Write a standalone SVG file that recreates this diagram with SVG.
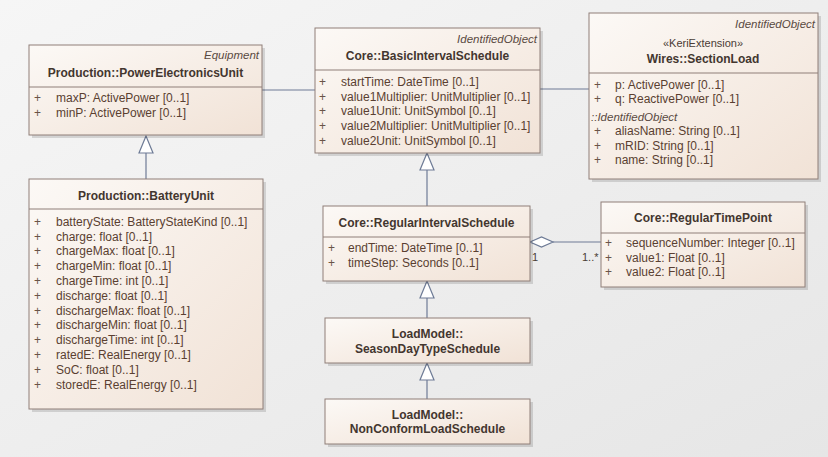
<svg xmlns="http://www.w3.org/2000/svg" width="828" height="457" viewBox="0 0 828 457">
<defs>
<linearGradient id="bg" x1="0" y1="0" x2="1" y2="1">
<stop offset="0" stop-color="#f6f6f6"/>
<stop offset="1" stop-color="#e6e6e6"/>
</linearGradient>
<linearGradient id="box" x1="0" y1="0" x2="1" y2="1">
<stop offset="0" stop-color="#fcf9f6"/>
<stop offset="1" stop-color="#f1e2d6"/>
</linearGradient>
</defs>
<style>
.shadow{fill:#000;opacity:0.13}
.box{fill:url(#box);stroke:#8f7f78;stroke-width:1}
.div{stroke:#8f7f78;stroke-width:1}
text{font-family:"Liberation Sans",Arial,sans-serif;fill:#4a3c35}
.title{font-size:12px;font-weight:bold;text-anchor:middle;fill:#43362f}
.ster{font-size:11.5px;font-style:italic;text-anchor:end;fill:#5a4a42}
.st{font-size:11px;text-anchor:middle;fill:#4a3c35}
.attr{font-size:12px;fill:#5a3f31}
.plus{font-size:12px;fill:#6a5448}
.it{font-size:11.5px;font-style:italic;fill:#5a4a42}
.lbl{font-size:11px;fill:#4a3c35}
.con{stroke:#6e7b96;stroke-width:1.2;fill:none}
.gen{stroke:#6e7b96;stroke-width:1.2;fill:#ffffff}
</style>
<rect x="0" y="0" width="828" height="457" fill="url(#bg)"/>

<g id="connectors">
<line class="con" x1="262" y1="90" x2="315" y2="90"/>
<line class="con" x1="540" y1="89" x2="589" y2="89"/>
<line class="con" x1="146" y1="179" x2="146" y2="153"/>
<polygon class="gen" points="146,136 139,153 153,153"/>
<line class="con" x1="427" y1="206" x2="427" y2="170"/>
<polygon class="gen" points="427,153 420,170 434,170"/>
<line class="con" x1="427" y1="318" x2="427" y2="298"/>
<polygon class="gen" points="427,281 420,298 434,298"/>
<line class="con" x1="427" y1="399" x2="427" y2="380"/>
<polygon class="gen" points="427,363 420,380 434,380"/>
<line class="con" x1="553" y1="242" x2="601" y2="242"/>
<polygon class="gen" points="530,242 541.5,237 553,242 541.5,247"/>
<text class="lbl" x="532" y="261">1</text>
<text class="lbl" x="582" y="261">1..*</text>
</g>

<g id="PowerElectronicsUnit">
<rect class="shadow" x="32" y="48" width="233" height="90"/>
<rect class="box" x="29" y="45" width="233" height="90"/>
<text class="ster" x="259" y="59">Equipment</text>
<text class="title" x="145.5" y="77">Production::PowerElectronicsUnit</text>
<line class="div" x1="29" y1="87" x2="262" y2="87"/>
<text class="plus" x="34" y="102">+</text><text class="attr" x="56" y="102">maxP: ActivePower [0..1]</text>
<text class="plus" x="34" y="117">+</text><text class="attr" x="56" y="117">minP: ActivePower [0..1]</text>
</g>

<g id="BasicIntervalSchedule">
<rect class="shadow" x="318" y="31" width="225" height="125"/>
<rect class="box" x="315" y="28" width="225" height="125"/>
<text class="ster" x="537" y="43">IdentifiedObject</text>
<text class="title" x="427.5" y="60">Core::BasicIntervalSchedule</text>
<line class="div" x1="315" y1="70" x2="540" y2="70"/>
<text class="plus" x="319" y="86">+</text><text class="attr" x="341" y="86">startTime: DateTime [0..1]</text>
<text class="plus" x="319" y="100.7">+</text><text class="attr" x="341" y="100.7">value1Multiplier: UnitMultiplier [0..1]</text>
<text class="plus" x="319" y="115.4">+</text><text class="attr" x="341" y="115.4">value1Unit: UnitSymbol [0..1]</text>
<text class="plus" x="319" y="130.1">+</text><text class="attr" x="341" y="130.1">value2Multiplier: UnitMultiplier [0..1]</text>
<text class="plus" x="319" y="144.8">+</text><text class="attr" x="341" y="144.8">value2Unit: UnitSymbol [0..1]</text>
</g>

<g id="SectionLoad">
<rect class="shadow" x="592" y="16" width="229" height="166"/>
<rect class="box" x="589" y="13" width="229" height="166"/>
<text class="ster" x="815" y="28">IdentifiedObject</text>
<text class="st" x="703" y="47">«KeriExtension»</text>
<text class="title" x="703" y="63">Wires::SectionLoad</text>
<line class="div" x1="589" y1="73" x2="818" y2="73"/>
<text class="plus" x="594" y="88.5">+</text><text class="attr" x="615" y="88.5">p: ActivePower [0..1]</text>
<text class="plus" x="594" y="102.5">+</text><text class="attr" x="615" y="102.5">q: ReactivePower [0..1]</text>
<text class="it" x="591" y="120.5">::IdentifiedObject</text>
<text class="plus" x="594" y="135">+</text><text class="attr" x="615" y="135">aliasName: String [0..1]</text>
<text class="plus" x="594" y="149.5">+</text><text class="attr" x="615" y="149.5">mRID: String [0..1]</text>
<text class="plus" x="594" y="164">+</text><text class="attr" x="615" y="164">name: String [0..1]</text>
</g>

<g id="BatteryUnit">
<rect class="shadow" x="32" y="182" width="234" height="230"/>
<rect class="box" x="29" y="179" width="234" height="230"/>
<text class="title" x="146" y="200">Production::BatteryUnit</text>
<line class="div" x1="29" y1="209" x2="263" y2="209"/>
<text class="plus" x="34" y="225.7">+</text><text class="attr" x="56" y="225.7">batteryState: BatteryStateKind [0..1]</text>
<text class="plus" x="34" y="240.5">+</text><text class="attr" x="56" y="240.5">charge: float [0..1]</text>
<text class="plus" x="34" y="255.3">+</text><text class="attr" x="56" y="255.3">chargeMax: float [0..1]</text>
<text class="plus" x="34" y="270.1">+</text><text class="attr" x="56" y="270.1">chargeMin: float [0..1]</text>
<text class="plus" x="34" y="284.9">+</text><text class="attr" x="56" y="284.9">chargeTime: int [0..1]</text>
<text class="plus" x="34" y="299.7">+</text><text class="attr" x="56" y="299.7">discharge: float [0..1]</text>
<text class="plus" x="34" y="314.5">+</text><text class="attr" x="56" y="314.5">dischargeMax: float [0..1]</text>
<text class="plus" x="34" y="329.3">+</text><text class="attr" x="56" y="329.3">dischargeMin: float [0..1]</text>
<text class="plus" x="34" y="344.1">+</text><text class="attr" x="56" y="344.1">dischargeTime: int [0..1]</text>
<text class="plus" x="34" y="358.9">+</text><text class="attr" x="56" y="358.9">ratedE: RealEnergy [0..1]</text>
<text class="plus" x="34" y="373.7">+</text><text class="attr" x="56" y="373.7">SoC: float [0..1]</text>
<text class="plus" x="34" y="388.5">+</text><text class="attr" x="56" y="388.5">storedE: RealEnergy [0..1]</text>
</g>

<g id="RegularIntervalSchedule">
<rect class="shadow" x="326" y="209" width="207" height="75"/>
<rect class="box" x="323" y="206" width="207" height="75"/>
<text class="title" x="426.5" y="227">Core::RegularIntervalSchedule</text>
<line class="div" x1="323" y1="237" x2="530" y2="237"/>
<text class="plus" x="328" y="252">+</text><text class="attr" x="348" y="252">endTime: DateTime [0..1]</text>
<text class="plus" x="328" y="267">+</text><text class="attr" x="348" y="267">timeStep: Seconds [0..1]</text>
</g>

<g id="RegularTimePoint">
<rect class="shadow" x="604" y="205" width="204" height="85"/>
<rect class="box" x="601" y="202" width="204" height="85"/>
<text class="title" x="703" y="222">Core::RegularTimePoint</text>
<line class="div" x1="601" y1="233" x2="805" y2="233"/>
<text class="plus" x="605" y="247">+</text><text class="attr" x="626" y="247">sequenceNumber: Integer [0..1]</text>
<text class="plus" x="605" y="262">+</text><text class="attr" x="626" y="262">value1: Float [0..1]</text>
<text class="plus" x="605" y="276">+</text><text class="attr" x="626" y="276">value2: Float [0..1]</text>
</g>

<g id="SeasonDayTypeSchedule">
<rect class="shadow" x="328" y="321" width="205" height="45"/>
<rect class="box" x="325" y="318" width="205" height="45"/>
<text class="title" x="427.5" y="338">LoadModel::</text>
<text class="title" x="427.5" y="353">SeasonDayTypeSchedule</text>
</g>

<g id="NonConformLoadSchedule">
<rect class="shadow" x="328" y="402" width="205" height="45"/>
<rect class="box" x="325" y="399" width="205" height="45"/>
<text class="title" x="427.5" y="419">LoadModel::</text>
<text class="title" x="427.5" y="433">NonConformLoadSchedule</text>
</g>
</svg>
